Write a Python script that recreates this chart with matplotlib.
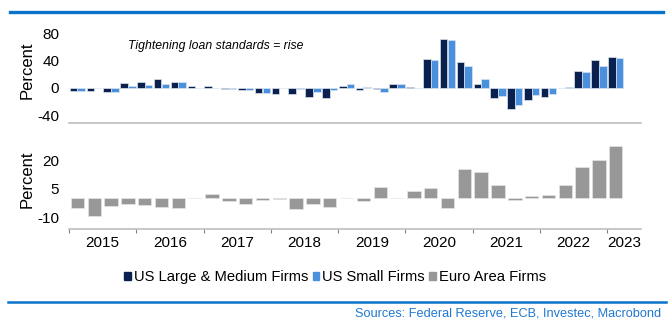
import matplotlib
matplotlib.use("Agg")
import matplotlib.pyplot as plt
from matplotlib.patches import Patch
from matplotlib.lines import Line2D
import numpy as np

plt.rcParams['font.family'] = ['Liberation Sans', 'DejaVu Sans']
plt.rcParams['axes.unicode_minus'] = False

# Quarterly net % of banks tightening credit standards, 2015Q1 onwards
years = ["2015", "2016", "2017", "2018", "2019", "2020", "2021", "2022", "2023"]
n_quarters = 34  # 2015Q1 .. 2023Q2

us_large = [-5, -5, -6, 7, 8, 12, 8, 2, 2, -2, -4, -8, -9, -9, -14, -15,
            3, -3, -2, 6, 1, 42, 71, 38, 6, -15, -31, -18, -14, -1, 25, 40, 45]
us_small = [-5, -1, -6, 2, 4, 6, 8, -1, 0, -2, -4, -8, 0, -2, -7, -3,
            5, 0.5, -6, 6, -1, 40, 70, 32, 12, -12, -25, -11, -9, 0.5, 23, 32, 44]
euro_area = [-5.4, -9.3, -4.3, -3.2, -3.4, -4.8, -5.4, 0.4, 2.3, -1.6, -3.2, -1.0,
             -0.3, -5.5, -3.2, -4.8, 0.3, -1.6, 6.3, 0.3, 3.8, 5.5, -5.4, 15.5,
             14.1, 7.1, -0.9, 1.2, 1.8, 7.0, 16.6, 20.7, 27.7]

NAVY = "#0a2150"
LIGHT = "#4a90dc"
GREY = "#989898"
BLUE = "#0a72c8"
SPINE = "#bdbdbd"

fig = plt.figure(figsize=(6.72, 3.29), dpi=100)
W, H = 672, 329

def ax_rect(x0, y0, x1, y1):
    return [x0 / W, 1 - y1 / H, (x1 - x0) / W, (y1 - y0) / H]

ax1 = fig.add_axes(ax_rect(69, 18, 641, 123))
ax2 = fig.add_axes(ax_rect(69, 130, 641, 229))

xl = np.arange(len(us_large))
xe = np.arange(len(euro_area))
bw = 0.45
ax1.bar(xl - 0.23, us_large, width=bw, color=NAVY, edgecolor="#d9e3ee", linewidth=0.5)
ax1.bar(xl + 0.23, us_small, width=bw, color=LIGHT, edgecolor="#d9e3ee", linewidth=0.5)
ax2.bar(xe, euro_area, width=0.8, color=GREY, edgecolor="#e6e6e6", linewidth=0.5)

for ax in (ax1, ax2):
    ax.set_xlim(-0.5, n_quarters - 0.5)
    for s in ("top", "right", "left"):
        ax.spines[s].set_visible(False)
    ax.spines["bottom"].set_color(SPINE)
    ax.spines["bottom"].set_linewidth(1.2)
    ax.tick_params(axis="y", length=0, pad=7, labelsize=11)
    ax.set_ylabel("Percent", fontsize=12)
    ax.yaxis.set_label_coords(-0.06, 0.5)

ax1.set_ylim(-51.7, 102)
ax1.set_yticks([-40, 0, 40, 80])
ax1.set_xticks([])

ax2.set_ylim(-16.4, 36.5)
ax2.set_yticks([-10, 5, 20])
ax2.set_xticks(np.arange(-0.5, n_quarters, 4))
ax2.set_xticklabels([])
ax2.tick_params(axis="x", direction="out", length=3, width=0.8, color="#808080")
centers = [4 * i + 1.5 for i in range(len(years) - 1)] + [32.5]
ax2.set_xticks(centers, minor=True)
ax2.set_xticklabels(years, minor=True, fontsize=11)
ax2.tick_params(axis="x", which="minor", length=0, pad=5)

fig.text(128 / W, 1 - 46 / H, "Tightening loan standards = rise",
         fontsize=8.8, style="italic", ha="left", va="center")

handles = [Patch(color=NAVY), Patch(color=LIGHT), Patch(color=GREY)]
labels = ["US Large & Medium Firms", "US Small Firms", "Euro Area Firms"]
fig.legend(handles, labels, loc="center", bbox_to_anchor=(335 / W, 1 - 277 / H),
           ncol=3, frameon=False, fontsize=10.6, handlelength=0.45,
           handleheight=0.45, handletextpad=0.2, columnspacing=0.3,
           borderaxespad=0, borderpad=0)

fig.add_artist(Line2D([10 / W, 663 / W], [1 - 12 / H] * 2, color=BLUE, linewidth=2.4))
fig.add_artist(Line2D([8 / W, 666 / W], [1 - 302 / H] * 2, color=BLUE, linewidth=1.8))
fig.text(661 / W, 1 - 314 / H, "Sources: Federal Reserve, ECB, Investec, Macrobond",
         fontsize=9.2, color="#1f78d1", ha="right", va="center")

fig.savefig("out.png", dpi=100)
